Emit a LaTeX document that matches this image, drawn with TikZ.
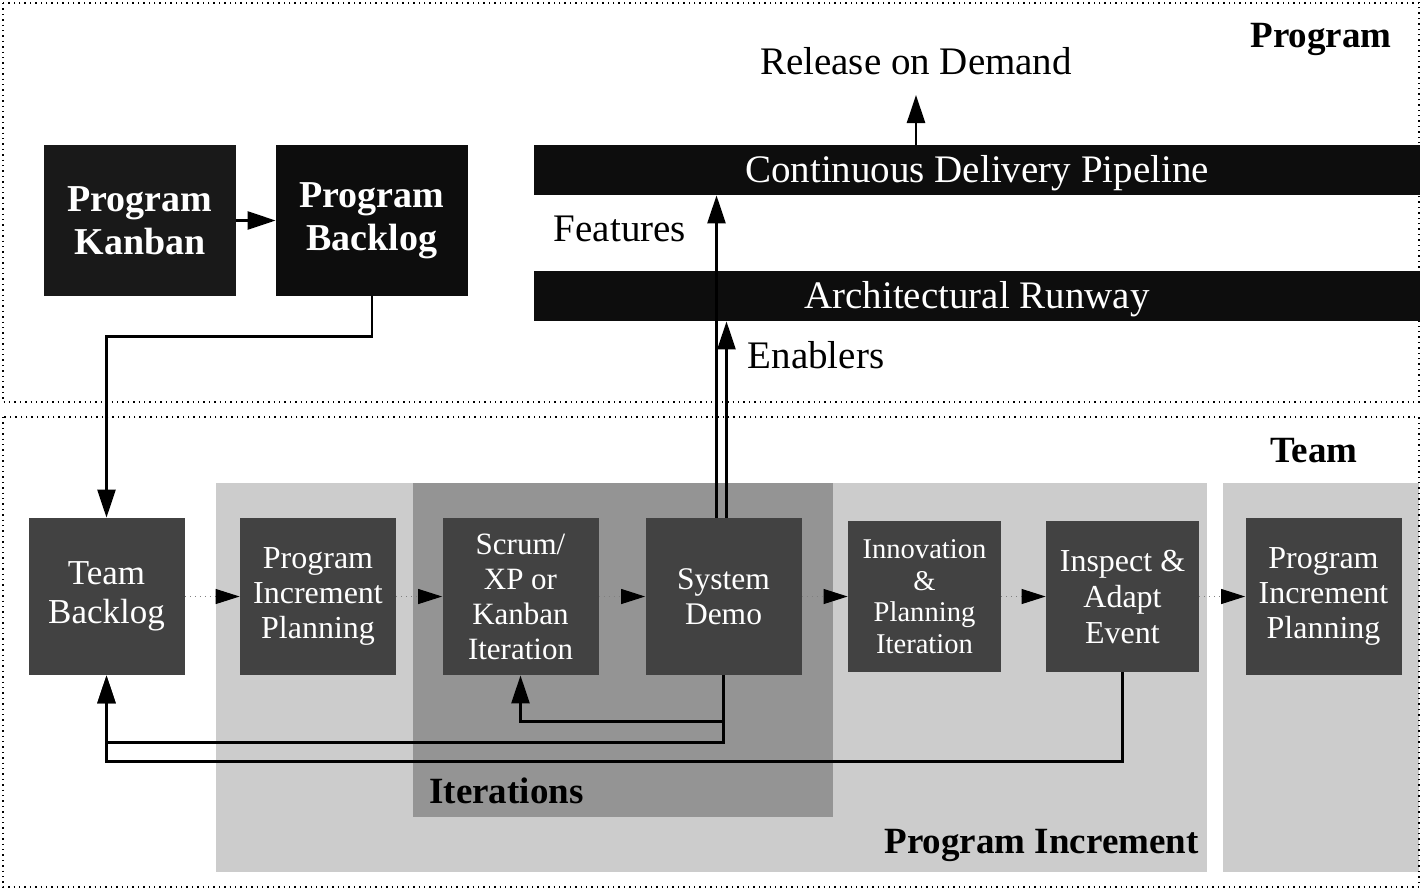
\documentclass[tikz,border=0pt]{standalone}
\usepackage{fontspec}
\setmainfont{Liberation Serif}
\usetikzlibrary{arrows.meta, calc, positioning}

\definecolor{boxgray}{gray}{0.26}
\definecolor{pigray}{gray}{0.80}
\definecolor{itgray}{gray}{0.58}
\definecolor{barblack}{gray}{0.05}
\definecolor{kanbanblack}{gray}{0.10}

\begin{document}
\begin{tikzpicture}[
    x=0.5pt, y=-0.5pt,
    box/.style={fill=boxgray, text=white, align=center, inner sep=1pt,
        minimum width=78pt, minimum height=78.5pt, font=\fontsize{16}{17.5}\selectfont},
    smallbox/.style={box, minimum width=76.5pt, minimum height=75.5pt},
    topbox/.style={text=white, align=center, minimum width=96pt, minimum height=75.5pt,
        font=\bfseries\fontsize{19}{21.5}\selectfont},
    bar/.style={fill=barblack, text=white, minimum width=443pt, minimum height=25pt,
        inner sep=0pt, text height=12.9pt, text depth=0pt, font=\fontsize{19.5}{21}\selectfont},
    main/.style={line width=1.3pt, -{Triangle[length=14pt, width=9pt]}},
    flow/.style={draw=gray, dotted, line width=0.5pt,
        -{Triangle[length=12pt, width=7.5pt, color=black]}},
    zone/.style={dotted, line width=0.7pt},
    lbl/.style={inner sep=0pt, font=\bfseries\fontsize{18.5}{21}\selectfont},
    plain/.style={inner sep=0pt, font=\fontsize{19.5}{21}\selectfont},
]
\useasboundingbox (0,0) rectangle (1423,891);

% Background areas
\fill[pigray] (216,483) rectangle (1207,872);
\fill[itgray] (413,483) rectangle (833,817);
\fill[pigray] (1223,483) rectangle (1419,872);

% Program / Team frames
\draw[zone] (3,3) rectangle (1419,402);
\draw[zone] (3,417) rectangle (1419,887);

% Program level
\node[lbl, anchor=base east] (proglbl) at (1392,47) {Program};
\node[topbox, fill=kanbanblack] (kanban) at (140,220.5) {Program\\Kanban};
\node[topbox, fill=barblack] (pbacklog) at (372,220.5) {Program\\Backlog};

\node[bar] (pipeline) at (977,170) {Continuous Delivery Pipeline};
\node[bar] (runway) at (977,296) {Architectural Runway};
\node[plain, anchor=base] (release) at (916,74) {Release on Demand};
\node[plain, anchor=base] (features) at (620,241) {Features};
\node[plain, anchor=base] (enablers) at (816,368) {Enablers};

% Team level
\node[lbl, anchor=base east] (teamlbl) at (1358,462) {Team};
\node[lbl, anchor=base west] (itlbl) at (429,803) {Iterations};
\node[lbl, anchor=base east] (pilbl) at (1199,853) {Program Increment};

\node[box, font=\fontsize{17.5}{19.5}\selectfont] (tbacklog) at (106.5,596.5) {Team\\Backlog};
\node[box] (pip1) at (318,596.5) {Program\\Increment\\Planning};
\node[box, font=\fontsize{15.5}{17.5}\selectfont] (scrum) at (520.5,596.5) {Scrum/\\XP or\\Kanban\\Iteration};
\node[box, font=\fontsize{15.75}{17.5}\selectfont] (demo) at (723.5,596.5) {System\\Demo};
\node[smallbox, font=\fontsize{14.3}{15.75}\selectfont] (innov) at (924.5,596.5) {Innovation\\\&\\Planning\\Iteration};
\node[smallbox, font=\fontsize{16}{18}\selectfont] (inspect) at (1122.5,596.5) {Inspect \&\\Adapt\\Event};
\node[box] (pip2) at (1323.5,596.5) {Program\\Increment\\Planning};

% Flow between events
\draw[flow] (tbacklog) -- (pip1);
\draw[flow] (pip1) -- (scrum);
\draw[flow] (scrum) -- (demo);
\draw[flow] (demo) -- (innov);
\draw[flow] (innov) -- (inspect);
\draw[flow] (inspect) -- (pip2);

% Backlogs
\draw[main] (kanban) -- (pbacklog);
\draw[main] (pbacklog.south) -- ++(0,40) -| (tbacklog.north);

% Features and enablers
\draw[main] ([xshift=-3.5pt]demo.north) -- ([xshift=-3.5pt]demo.north |- pipeline.south);
\draw[main] ([xshift=1.5pt]demo.north) -- ([xshift=1.5pt]demo.north |- runway.south);
\draw[main] (pipeline.north -| release.base) -- ([yshift=-10.5pt]release.base);

% Feedback loops
\draw[main] (demo.south) -- ++(0,46) -| (scrum.south);
\draw[main] (demo.south) -- ++(0,67) -| (tbacklog.south);
\draw[main] (inspect.south) -- ++(0,89) -| (tbacklog.south);

\end{tikzpicture}
\end{document}
